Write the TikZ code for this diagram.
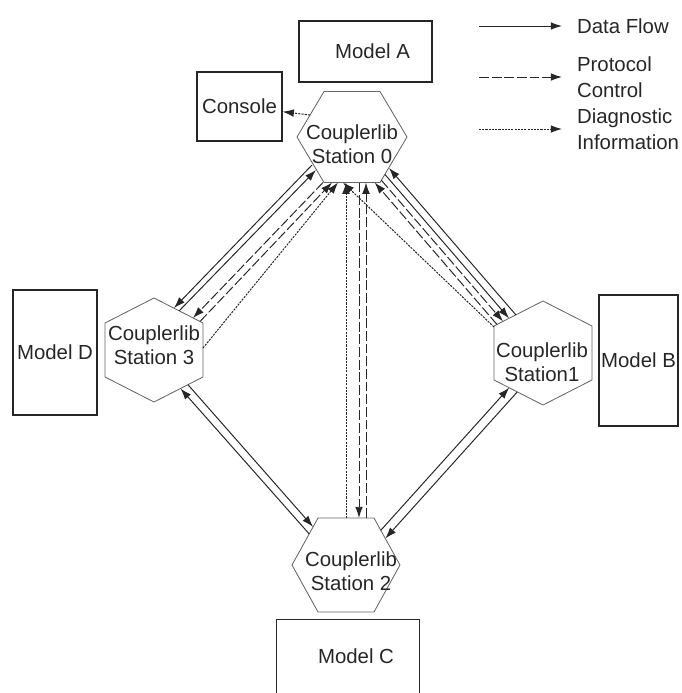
\documentclass[tikz,border=0pt]{standalone}
\usepackage{fontspec}
\setmainfont{Liberation Sans}
\usetikzlibrary{arrows.meta}

\begin{document}
\begin{tikzpicture}[x=0.025cm, y=-0.025cm,
    every node/.style={font=\fontsize{14.5}{17}\selectfont, text=black!85},
    box/.style={draw=black!85, line width=0.9pt, inner sep=0pt, align=center},
    hexcore/.style={inner sep=0pt, minimum size=0pt},
    hexline/.style={draw=black!60, line width=0.6pt},
    stationtext/.style={align=center, inner sep=0pt},
    legtext/.style={align=left, inner ysep=0pt, inner xsep=10.5pt, font=\fontsize{14.5}{18.5}\selectfont},
    dataflow/.style={-{Latex[length=8pt,width=5.5pt]}, line width=0.7pt, black!85},
    control/.style={dataflow, dash pattern=on 7pt off 2pt},
    diagnostic/.style={dataflow, dash pattern=on 1.5pt off 0.8pt}]

    \useasboundingbox (0,0) rectangle (682,693);

    % Models and console
    \node[box, minimum width=3.325cm, minimum height=1.525cm] (modela) at (365.5,51.5) {\hspace{0.35cm}Model A};
    \node[box, minimum width=2.125cm, minimum height=1.725cm] (console) at (239.5,106.5) {Console};
    \node[box, minimum width=2.1cm, minimum height=3.125cm] (modeld) at (55,352.5) {Model D};
    \node[box, minimum width=1.975cm, minimum height=3.275cm] (modelb) at (638.5,360.5) {Model B};
    \node[box, draw=none, minimum width=3.55cm, minimum height=1.825cm] (modelc) at (348,656.5) {\hspace{0.4cm}Model C};
    \draw[line width=0.9pt, black!85] (modelc.south west) -- (modelc.north west) -- (modelc.north east) -- (modelc.south east);

    % Couplerlib stations
    \node[hexcore] (s0) at (352,137) {};
    \node[hexcore] (s1) at (543,353) {};
    \node[hexcore] (s2) at (346,565) {};
    \node[hexcore] (s3) at (154,350) {};
    \draw[hexline] (s0.center) ++(-55,0) -- ++(27,-45.5) -- ++(56,0) -- ++(27,45.5) -- ++(-27,45.5) -- ++(-56,0) -- cycle;
    \draw[hexline] (s2.center) ++(-54,0) -- ++(26,-47) -- ++(56,0) -- ++(26,47) -- ++(-26,47) -- ++(-56,0) -- cycle;
    \draw[hexline] (s1.center) ++(0,-52) -- ++(49,25) -- ++(0,54) -- ++(-49,25) -- ++(-49,-25) -- ++(0,-54) -- cycle;
    \draw[hexline] (s3.center) ++(0,-52) -- ++(49,25) -- ++(0,54) -- ++(-49,25) -- ++(-49,-25) -- ++(0,-54) -- cycle;
    \node[stationtext] (s0text) at (352,144) {Couplerlib\\Station 0};
    \node[stationtext] (s1text) at (542,362) {Couplerlib\\Station1};
    \node[stationtext] (s2text) at (351,571) {Couplerlib\\Station 2};
    \node[stationtext] (s3text) at (154,345) {Couplerlib\\Station 3};

    % Station 0 -- Station 3
    \draw[dataflow] ([shift={(-40,28)}]s0.center) -- ([shift={(20,-42)}]s3.center);
    \draw[dataflow] ([shift={(25,-39)}]s3.center) -- ([shift={(-36,33)}]s0.center);
    \draw[control] ([shift={(-29,45.5)}]s0.center) -- ([shift={(39,-32)}]s3.center);
    \draw[control] ([shift={(46,-28.5)}]s3.center) -- ([shift={(-20,45.5)}]s0.center);
    \draw[diagnostic] ([shift={(49,-2)}]s3.center) -- ([shift={(-14,45.5)}]s0.center);

    % Station 0 -- Station 1
    \draw[dataflow] ([shift={(-27,-38)}]s1.center) -- ([shift={(37,31)}]s0.center);
    \draw[dataflow] ([shift={(33,37.5)}]s0.center) -- ([shift={(-34,-34.7)}]s1.center);
    \draw[control] ([shift={(29.4,43.3)}]s0.center) -- ([shift={(-40,-31.6)}]s1.center);
    \draw[control] ([shift={(-46,-28.5)}]s1.center) -- ([shift={(22.7,45.5)}]s0.center);
    \draw[diagnostic] ([shift={(-49,-26)}]s1.center) -- ([shift={(-9,45.5)}]s0.center);

    % Station 0 -- Station 2
    \draw[diagnostic] ([shift={(0,-47)}]s2.center) -- ([shift={(-6,45.5)}]s0.center);
    \draw[control] ([shift={(7,45.5)}]s0.center) -- ([shift={(13,-47)}]s2.center);
    \draw[control] ([shift={(20,-47)}]s2.center) -- ([shift={(14,45.5)}]s0.center);

    % Station 3 -- Station 2
    \draw[dataflow] ([shift={(34,34.7)}]s3.center) -- ([shift={(-33,-38.2)}]s2.center);
    \draw[dataflow] ([shift={(-36.8,-31.1)}]s2.center) -- ([shift={(26.5,38.5)}]s3.center);

    % Station 2 -- Station 1
    \draw[dataflow] ([shift={(34.8,-34.7)}]s2.center) -- ([shift={(-33.8,34.7)}]s1.center);
    \draw[dataflow] ([shift={(-25.7,38.9)}]s1.center) -- ([shift={(39.3,-26.5)}]s2.center);

    % Station 0 -- Console
    \draw[diagnostic] ([shift={(-42,-22)}]s0.center) -- (console);

    % Legend
    \coordinate (lg1) at (479,26);
    \coordinate (lg2) at (479,77);
    \coordinate (lg3) at (479,129);
    \node[legtext, anchor=west] (lgdata) at (562,26) {Data Flow};
    \node[legtext, anchor=west] (lgctrl) at (562,77) {Protocol\\Control};
    \node[legtext, anchor=west] (lgdiag) at (562,129) {Diagnostic\\Information};
    \draw[dataflow] (lg1) -- (lgdata);
    \draw[control] (lg2) -- (lgctrl);
    \draw[diagnostic] (lg3) -- (lgdiag);
\end{tikzpicture}
\end{document}
